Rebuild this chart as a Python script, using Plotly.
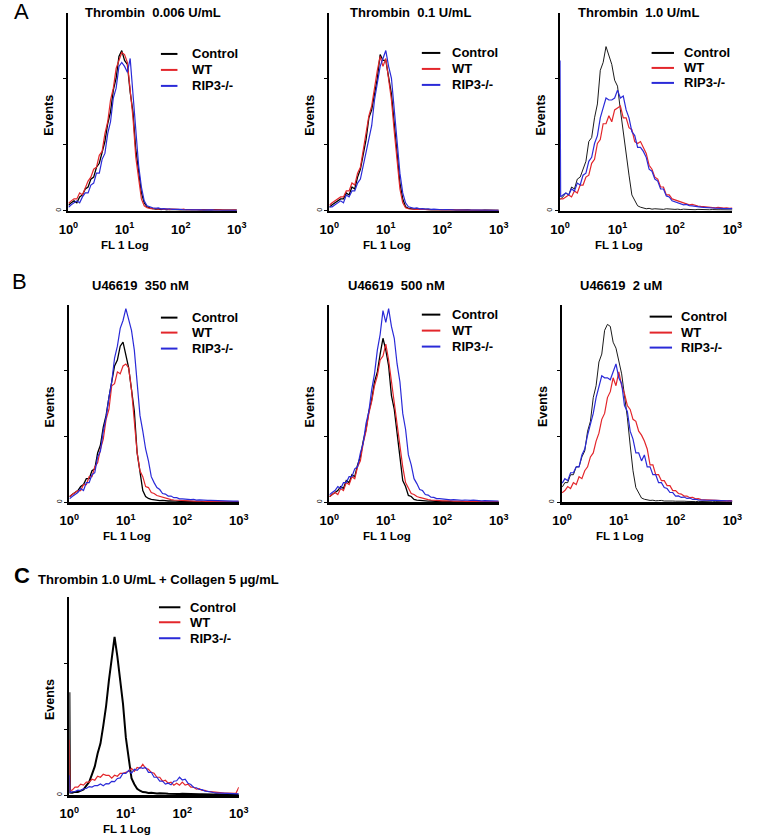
import plotly.graph_objects as go

W, H = 757, 838

# FL1 channel positions (log10 of fluorescence), shared by all histograms
LOG_CH = [0.00, 0.01, 0.05, 0.10, 0.15, 0.20, 0.25, 0.30, 0.35, 0.40, 0.45,
          0.50, 0.55, 0.60, 0.65, 0.70, 0.75, 0.80, 0.85, 0.90, 0.95,
          1.00, 1.05, 1.10, 1.15, 1.20, 1.25, 1.30, 1.35, 1.40, 1.45,
          1.50, 1.55, 1.60, 1.65, 1.70, 1.75, 1.80, 1.85, 1.90, 1.95,
          2.00, 2.05, 2.10, 2.15, 2.20, 2.25, 2.30, 2.35, 2.40, 2.45,
          2.50, 2.55, 2.60, 2.65, 2.70, 2.75, 2.80, 2.85, 2.90, 2.95, 3.00]

SERIES = ["Control", "WT", "RIP3-/-"]
TICK_VALS = [1, 10, 100, 1000]
TICK_TEXT = ["10<sup>0</sup>", "10<sup>1</sup>", "10<sup>2</sup>", "10<sup>3</sup>"]

# Events (% of axis height) per channel
A1_CONTROL = [3, 3,
              4, 5, 4, 7, 8, 11, 12, 16, 17,
              22, 24, 29, 35, 44, 50, 61, 67, 78, 81,
              76, 74, 60, 50, 31, 20, 9, 4, 2, 1.5,
              1, 0.8, 1, 0.6, 0.8, 0.5, 0.7, 0.6, 0.5, 0.6,
              0.5, 0.6, 0.4, 0.5, 0.6, 0.4, 0.5, 0.3, 0.5, 0.4,
              0.4, 0.3, 0.5, 0.3, 0.4, 0.3, 0.3, 0.4, 0.2, 0.3, 0.3]
A1_WT = [4, 4,
         5, 6, 6, 9, 8, 12, 15, 17, 21,
         22, 28, 30, 39, 45, 56, 62, 72, 76, 80,
         79, 75, 61, 47, 27, 16, 6, 2.5, 1.5, 1.2,
         1, 1.2, 0.8, 1, 0.7, 0.9, 0.6, 0.8, 0.6, 0.7,
         0.6, 0.8, 0.5, 0.6, 0.7, 0.5, 0.6, 0.4, 0.6, 0.5,
         0.5, 0.4, 0.6, 0.4, 0.5, 0.4, 0.4, 0.5, 0.3, 0.4, 0.3]
A1_RIP3 = [2, 2,
           3, 4, 5, 4, 7, 9, 9, 13, 14,
           19, 19, 26, 29, 39, 45, 57, 62, 73, 75,
           73, 70, 77, 58, 41, 23, 12, 5, 2.5, 1.8,
           1.5, 1.2, 1.4, 1, 1.1, 0.8, 1, 0.7, 0.8, 0.6,
           0.7, 0.5, 0.6, 0.5, 0.4, 0.5, 0.4, 0.5, 0.3, 0.4,
           0.3, 0.4, 0.3, 0.3, 0.4, 0.2, 0.3, 0.3, 0.2, 0.3, 0.2]

A2_CONTROL = [2, 2,
              3, 4, 5, 6, 6, 9, 8, 12, 11,
              17, 21, 29, 36, 47, 51, 59, 67, 79, 76,
              76, 67, 59, 44, 29, 14, 6, 2, 1.2, 1,
              0.8, 1, 0.7, 0.8, 0.6, 0.7, 0.5, 0.6, 0.5, 0.4,
              0.5, 0.4, 0.5, 0.3, 0.4, 0.3, 0.4, 0.3, 0.3, 0.4,
              0.3, 0.2, 0.3, 0.3, 0.2, 0.3, 0.2, 0.3, 0.2, 0.2, 0.2]
A2_WT = [3, 3,
         4, 5, 6, 7, 7, 10, 10, 14, 13,
         19, 22, 31, 38, 48, 53, 63, 71, 78, 73,
         77, 65, 56, 40, 25, 11, 4, 1.5, 1, 0.8,
         0.9, 0.7, 0.8, 0.6, 0.7, 0.5, 0.6, 0.5, 0.4, 0.5,
         0.4, 0.5, 0.3, 0.4, 0.4, 0.3, 0.4, 0.3, 0.3, 0.3,
         0.3, 0.3, 0.2, 0.3, 0.2, 0.3, 0.2, 0.2, 0.2, 0.2, 0.2]
A2_RIP3 = [2, 2,
           2, 3, 4, 5, 4, 8, 7, 10, 10,
           14, 16, 23, 29, 37, 43, 56, 65, 73, 77,
           81, 73, 67, 51, 35, 19, 9, 4, 2, 1.5,
           1.2, 1.4, 1, 1.1, 0.8, 1, 0.7, 0.8, 0.6, 0.7,
           0.5, 0.6, 0.4, 0.5, 0.4, 0.4, 0.3, 0.4, 0.3, 0.3,
           0.3, 0.2, 0.3, 0.2, 0.3, 0.2, 0.2, 0.2, 0.2, 0.2, 0.2]

A3_CONTROL = [6, 6,
              7, 9, 8, 12, 11, 16, 17, 21, 25,
              35, 37, 47, 54, 71, 75, 83, 79, 74, 66,
              63, 51, 40, 27, 18, 8, 5, 2.5, 1.8, 1.2,
              1, 1.2, 0.8, 1, 0.9, 1.1, 0.7, 1, 0.8, 0.9,
              0.7, 0.8, 0.6, 0.8, 0.7, 0.6, 0.8, 0.5, 0.7, 0.6,
              0.5, 0.6, 0.5, 0.6, 0.4, 0.5, 0.5, 0.4, 0.5, 0.4, 0.4]
A3_WT = [6, 6,
         6, 7, 8, 7, 10, 9, 13, 13, 17,
         18, 24, 26, 34, 36, 44, 44, 48, 45, 51,
         52, 53, 47, 47, 42, 41, 35, 34, 35, 32,
         29, 23, 21, 17, 16, 12, 12, 8, 8, 6,
         5.5, 5, 4.5, 4, 3.5, 3, 3.2, 2.6, 2.4, 2.2,
         2, 1.8, 1.9, 1.6, 1.5, 1.7, 1.4, 1.3, 1.5, 1.2, 1.3]
A3_RIP3 = [76, 7,
           8, 9, 8, 11, 10, 14, 13, 18, 19,
           25, 27, 34, 38, 47, 52, 57, 56, 56, 57,
           61, 57, 58, 51, 47, 40, 38, 32, 32, 30,
           27, 21, 20, 16, 15, 11, 11, 7.5, 7, 5,
           4.5, 4, 3.6, 3, 3.2, 2.6, 2.5, 2.2, 2, 1.8,
           1.7, 1.5, 1.6, 1.4, 1.3, 1.4, 1.2, 1.1, 1.2, 1, 1.1]

B1_CONTROL = [3, 3,
              4, 5, 6, 8, 9, 12, 12, 16, 17,
              25, 29, 38, 44, 53, 61, 69, 72, 79, 81,
              75, 68, 57, 46, 25, 15, 6, 3, 2, 1.5,
              1.2, 1, 0.9, 1, 0.8, 0.7, 0.8, 0.6, 0.7, 0.5,
              0.6, 0.5, 0.4, 0.5, 0.4, 0.4, 0.3, 0.4, 0.3, 0.3,
              0.3, 0.3, 0.2, 0.3, 0.2, 0.3, 0.2, 0.2, 0.2, 0.2, 0.2]
B1_WT = [3, 3,
         4, 5, 6, 6, 9, 9, 13, 13, 18,
         20, 27, 32, 42, 47, 59, 60, 66, 65, 69,
         70, 68, 57, 40, 25, 16, 13, 8, 7.5, 5,
         4.5, 3.5, 3, 2.5, 2, 1.6, 1.4, 1.2, 1.1, 1,
         0.8, 0.9, 0.7, 0.8, 0.6, 0.7, 0.6, 0.5, 0.6, 0.5,
         0.4, 0.5, 0.4, 0.4, 0.3, 0.4, 0.3, 0.3, 0.3, 0.3, 0.3]
B1_RIP3 = [2, 2,
           3, 4, 5, 7, 6, 10, 10, 14, 15,
           23, 26, 36, 43, 53, 61, 73, 79, 88, 92,
           98, 93, 87, 77, 59, 44, 36, 27, 21, 13,
           10, 7.5, 6.5, 4.5, 4.2, 3.2, 3.2, 2.4, 2.4, 1.8,
           1.8, 1.6, 1.7, 1.4, 1.5, 1.2, 1.3, 1.1, 1.2, 1,
           1, 0.9, 1, 0.8, 0.9, 0.7, 0.8, 0.7, 0.6, 0.7, 0.6]

B2_CONTROL = [3, 3,
              4, 5, 6, 8, 7, 11, 10, 14, 13,
              19, 23, 31, 37, 46, 52, 61, 66, 75, 83,
              77, 69, 54, 47, 35, 23, 11, 8, 3.5, 3,
              1.5, 1.2, 1, 0.8, 0.9, 0.6, 0.7, 0.5, 0.6, 0.4,
              0.5, 0.4, 0.4, 0.3, 0.4, 0.3, 0.3, 0.3, 0.2, 0.3,
              0.2, 0.3, 0.2, 0.2, 0.2, 0.2, 0.2, 0.2, 0.2, 0.2, 0.2]
B2_WT = [3, 3,
         4, 5, 4, 7, 6, 10, 9, 13, 12,
         18, 21, 30, 36, 45, 51, 59, 64, 72, 74,
         80, 72, 61, 49, 39, 27, 18, 10, 7.5, 4.5,
         4, 3, 2.5, 2, 1.6, 1.4, 1.2, 1, 1.1, 0.9,
         0.8, 0.9, 0.7, 0.8, 0.6, 0.7, 0.5, 0.6, 0.5, 0.5,
         0.4, 0.5, 0.4, 0.4, 0.3, 0.4, 0.3, 0.3, 0.3, 0.3, 0.3]
B2_RIP3 = [4, 4,
           5, 6, 8, 7, 10, 10, 13, 13, 17,
           18, 25, 30, 40, 46, 57, 65, 77, 85, 97,
           91, 98, 89, 83, 70, 61, 45, 37, 24, 19,
           12, 9.5, 6.5, 6, 4, 3.7, 2.6, 2.5, 1.9, 1.9,
           1.7, 1.5, 1.6, 1.3, 1.4, 1.2, 1.3, 1.1, 1.2, 1,
           1, 1.1, 0.9, 1, 0.8, 0.9, 0.8, 0.7, 0.8, 0.7, 0.7]

B3_CONTROL = [8, 8,
              10, 10, 14, 14, 18, 18, 23, 26, 36,
              41, 53, 59, 71, 75, 87, 90, 89, 81, 78,
              72, 65, 54, 43, 29, 16, 7.5, 4.5, 2.2, 1.6,
              1.2, 1, 1.1, 0.8, 0.9, 1, 0.7, 0.8, 0.6, 0.7,
              0.6, 0.7, 0.5, 0.6, 0.5, 0.4, 0.5, 0.4, 0.5, 0.4,
              0.4, 0.3, 0.4, 0.3, 0.4, 0.3, 0.3, 0.3, 0.3, 0.3, 0.3]
B3_WT = [5, 5,
         6, 8, 7, 10, 9, 13, 12, 16, 18,
         23, 25, 31, 35, 42, 45, 53, 56, 63, 59,
         66, 59, 55, 49, 47, 42, 41, 36, 34, 31,
         27, 19, 19, 14, 14, 11, 11, 8.5, 8.5, 6,
         6, 4.5, 4.2, 3.2, 3.2, 2.4, 2.6, 1.8, 1.9, 1.4,
         1.3, 1.4, 1.2, 1.1, 1.2, 1, 0.9, 1, 0.8, 0.9, 0.8]
B3_RIP3 = [10, 10,
           12, 11, 15, 15, 18, 18, 24, 27, 34,
           39, 45, 53, 58, 64, 63, 63, 62, 66, 70,
           63, 60, 49, 46, 36, 32, 25, 25, 21, 24,
           18, 18, 14, 14, 10, 10, 7.5, 7, 5, 5,
           3.2, 3.3, 2.5, 2.7, 2, 2.2, 1.5, 1.6, 1.3, 1.4,
           1.2, 1.1, 1.2, 1, 1, 0.9, 0.8, 0.9, 0.7, 0.8, 0.7]

C_CONTROL = [52, 1.3,
             1.2, 1.6, 1.5, 2.2, 2.8, 4.8, 6.6, 10.5, 14.5,
             21, 26, 35, 45, 58, 68, 80, 70, 58, 46,
             29, 19, 8.5, 5.5, 3.2, 2.2, 1.5, 1.4, 1, 1.1,
             0.9, 0.8, 0.9, 0.7, 0.8, 0.7, 0.6, 0.7, 0.6, 0.5,
             0.6, 0.5, 0.5, 0.4, 0.5, 0.4, 0.4, 0.4, 0.3, 0.4,
             0.3, 0.3, 0.4, 0.3, 0.3, 0.3, 0.2, 0.3, 0.2, 0.3, 0.2]
C_WT = [28, 2,
        2.5, 4, 4, 5.5, 5, 6.5, 6.5, 8, 7.5,
        9.5, 9, 10.5, 10, 10, 8.5, 10, 9.5, 11, 11,
        11.5, 12, 13.5, 12, 14, 13.5, 15.5, 13.5, 13, 11.5,
        11, 9, 9, 7, 7.5, 6, 6.5, 5, 6, 5,
        6.5, 5, 5.5, 4, 4, 3, 3.2, 2.4, 2.4, 1.8,
        1.7, 1.5, 1.4, 1.2, 1.1, 1, 1, 0.9, 1, 0.9, 4]
C_RIP3 = [10, 1.3,
          1.6, 1.8, 2.5, 2.3, 3.2, 3.3, 4.3, 4, 4.8,
          4.8, 5.6, 4.7, 5.8, 5.7, 6.9, 6.8, 8.4, 8.7, 11,
          11, 12.5, 11, 13, 12.5, 14, 13.5, 14, 11.5, 11.5,
          9, 9, 7, 7, 5.5, 6, 5.2, 7, 7.2, 9,
          7.6, 8, 6, 5.3, 3.8, 3.7, 2.8, 2.7, 2, 1.9,
          1.5, 1.3, 1.1, 1, 0.9, 0.8, 0.8, 0.7, 0.7, 0.6, 0.6]

TITLES = ["Thrombin  0.006 U/mL", "Thrombin  0.1 U/mL", "Thrombin  1.0 U/mL",
          "U46619  350 nM", "U46619  500 nM", "U46619  2 uM",
          "Thrombin 1.0 U/mL + Collagen 5 &#956;g/mL"]

DATA = [(A1_CONTROL, A1_WT, A1_RIP3), (A2_CONTROL, A2_WT, A2_RIP3), (A3_CONTROL, A3_WT, A3_RIP3),
        (B1_CONTROL, B1_WT, B1_RIP3), (B2_CONTROL, B2_WT, B2_RIP3), (B3_CONTROL, B3_WT, B3_RIP3),
        (C_CONTROL, C_WT, C_RIP3)]

# ---- layout (pixel geometry) ----
PANELS = [
    dict(x=(60, 233), y=(13, 211), tx=147, ty=13, lx=(155, 172), ltx=185, ly=(54, 70, 86), cw=1.3),
    dict(x=(328, 502), y=(13, 211), tx=411, ty=13, lx=(423, 442), ltx=452, ly=(53, 69, 85), cw=1.3),
    dict(x=(565, 742), y=(13, 211), tx=646, ty=13, lx=(659, 682), ltx=690, ly=(53, 68, 83), cw=0.9),
    dict(x=(61, 235), y=(305, 503), tx=134, ty=286, lx=(155, 172), ltx=185, ly=(318, 333, 349), cw=1.3),
    dict(x=(328, 502), y=(305, 503), tx=397, ty=286, lx=(423, 442), ltx=452, ly=(315, 331, 347), cw=1.3),
    dict(x=(567, 742), y=(305, 503), tx=628, ty=286, lx=(657, 680), ltx=687, ly=(317, 333, 348), cw=0.9),
    dict(x=(61, 235), y=(598, 796), tx=None, ty=None, lx=(153, 175), ltx=183, ly=(608, 623, 639), cw=2.0),
]

COLORS = ["#000000", "#e3262b", "#2a2ad8"]
FONT = "Liberation Sans, Arial, Helvetica, sans-serif"

def px(xp):
    return xp / W

def py(yp):
    return 1 - yp / H

FL1 = [10 ** v for v in LOG_CH]

fig = go.Figure()
layout = dict(width=W, height=H, margin=dict(l=0, r=0, t=0, b=0),
              paper_bgcolor="white", plot_bgcolor="white", showlegend=False)
annotations = []
shapes = []

for i, (p, curves, title) in enumerate(zip(PANELS, DATA, TITLES)):
    n = i + 1
    xa = "x" if n == 1 else f"x{n}"
    ya = "y" if n == 1 else f"y{n}"
    widths = [p["cw"], 1.2, 1.2]
    for k in range(3):
        fig.add_trace(go.Scatter(x=FL1, y=curves[k], mode="lines", name=SERIES[k],
                                 line=dict(color=COLORS[k], width=widths[k]),
                                 xaxis=xa, yaxis=ya, hoverinfo="skip"))
    xkey = "xaxis" if n == 1 else f"xaxis{n}"
    ykey = "yaxis" if n == 1 else f"yaxis{n}"
    layout[xkey] = dict(domain=[px(p["x"][0]), px(p["x"][1])], anchor=ya, type="log",
                        range=[0, 3], showline=True, linecolor="black", linewidth=2.5,
                        showgrid=False, zeroline=False, ticks="outside", ticklen=5,
                        tickcolor="rgba(0,0,0,0)",
                        tickvals=TICK_VALS, ticktext=[f"<b>{t}</b>" for t in TICK_TEXT],
                        tickfont=dict(family=FONT, size=13, color="black"))
    layout[ykey] = dict(domain=[py(p["y"][1]), py(p["y"][0])], anchor=xa,
                        range=[0, 100], showline=True, linecolor="black", linewidth=2,
                        showgrid=False, zeroline=False, ticks="outside", ticklen=3,
                        tickwidth=1, tickcolor="black",
                        tickvals=[0, 33.33, 66.67], ticktext=["0", "", ""],
                        tickangle=-90, tickfont=dict(family=FONT, size=7, color="black"))
    yc = (p["y"][0] + p["y"][1]) / 2
    annotations.append(dict(x=px(p["x"][0] - 20), y=py(yc + 3), xref="paper", yref="paper",
                            text="<b>Events</b>", textangle=-90, showarrow=False,
                            font=dict(family=FONT, size=12.5, color="black"),
                            xanchor="center", yanchor="middle"))
    annotations.append(dict(x=px((p["x"][0] + p["x"][1]) / 2 - 28), y=py(p["y"][1] + 34),
                            xref="paper", yref="paper", text="<b>FL 1 Log</b>", showarrow=False,
                            font=dict(family=FONT, size=11.5, color="black"),
                            xanchor="center", yanchor="middle"))
    if p["tx"] is not None:
        annotations.append(dict(x=px(p["tx"]), y=py(p["ty"]), xref="paper", yref="paper",
                                text=f"<b>{title}</b>", showarrow=False,
                                font=dict(family=FONT, size=13, color="black"),
                                xanchor="center", yanchor="middle"))
    for k in range(3):
        shapes.append(dict(type="line", xref="paper", yref="paper",
                           x0=px(p["lx"][0]), x1=px(p["lx"][1]),
                           y0=py(p["ly"][k]), y1=py(p["ly"][k]),
                           line=dict(color=COLORS[k], width=2)))
        annotations.append(dict(x=px(p["ltx"]), y=py(p["ly"][k]), xref="paper", yref="paper",
                                text=f"<b>{SERIES[k]}</b>", showarrow=False,
                                font=dict(family=FONT, size=13, color="black"),
                                xanchor="left", yanchor="middle"))

annotations.append(dict(x=px(27), y=py(580), xref="paper", yref="paper", text=f"<b>{TITLES[6]}</b>",
                        showarrow=False, font=dict(family=FONT, size=13, color="black"),
                        xanchor="left", yanchor="middle"))
for letter, lx, ly, bold in [("A", 12, 12, False), ("B", 10, 282, False), ("C", 12, 576, True)]:
    annotations.append(dict(x=px(lx), y=py(ly), xref="paper", yref="paper",
                            text=f"<b>{letter}</b>" if bold else letter, showarrow=False,
                            font=dict(family=FONT, size=22, color="black"),
                            xanchor="center", yanchor="middle"))

layout["annotations"] = annotations
layout["shapes"] = shapes
fig.update_layout(**layout)
fig.write_html("out.html", config={"displayModeBar": False, "staticPlot": True},
               post_script="document.body.style.margin='0px';document.body.style.overflow='hidden';")
